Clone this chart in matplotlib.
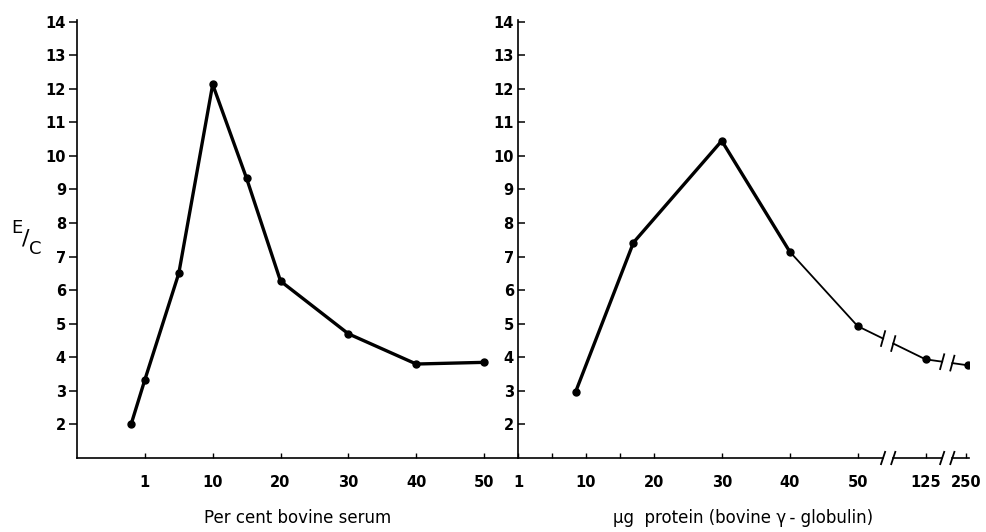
import matplotlib
matplotlib.use("Agg")
import matplotlib.pyplot as plt

# ---- data ----
left_tick_pos = [0, 10, 20, 30, 40, 50]
left_tick_labels = ['1', '10', '20', '30', '40', '50']
left_x = [-2, 0, 5, 10, 15, 20, 30, 40, 50]
left_y = [2.02, 3.33, 6.5, 12.13, 9.33, 6.27, 4.7, 3.8, 3.85]

right_tick_pos = [0, 10, 20, 30, 40, 50, 60, 66]
right_tick_labels = ['1', '10', '20', '30', '40', '50', '125', '250']
right_minor = [5, 15]
right_x = [8.5, 17, 30, 40, 50, 60, 66.3]
right_y = [2.98, 7.42, 10.45, 7.15, 4.93, 3.94, 3.76]
breaks = [54.5, 63.2]

y_ticks = list(range(2, 15))

W, H = 987, 532
fig = plt.figure(figsize=(W / 100, H / 100), dpi=100)
plt.rcParams['font.family'] = ['DejaVu Sans']

bottom = 1 - 458 / H
height = (458 - 20) / H
axL = fig.add_axes([77 / W, bottom, (518 - 77) / W, height])
axR = fig.add_axes([518 / W, bottom, (969 - 518) / W, height])

tick_font = dict(fontsize=10.5, fontweight='bold')
for ax in (axL, axR):
    ax.set_ylim(1, 14.05)
    ax.spines['top'].set_visible(False)
    ax.spines['right'].set_visible(False)
    ax.spines['left'].set_linewidth(1.2)
    ax.spines['bottom'].set_linewidth(1.2)
    ax.set_yticks(y_ticks)
    ax.set_yticklabels([str(v) for v in y_ticks], **tick_font)
    ax.patch.set_visible(False)

# left panel
axL.set_xlim(-10, 55)
axL.set_xticks(left_tick_pos)
axL.set_xticklabels(left_tick_labels, **tick_font)
axL.tick_params(axis='y', direction='out', length=6, width=1.1, pad=2)
axL.tick_params(axis='x', direction='in', length=3.5, width=1.0, pad=12)
axL.plot(left_x, left_y, color='black', lw=2.4, marker='o', ms=5, solid_joinstyle='round')
axL.set_xlabel('Per cent bovine serum', fontsize=12, labelpad=14)

# right panel
axR.set_xlim(0, 66.4)
axR.set_xticks(right_tick_pos)
axR.set_xticklabels(right_tick_labels, **tick_font)
axR.set_xticks(right_minor, minor=True)
axR.tick_params(axis='y', direction='in', length=5, width=1.1, pad=3)
axR.tick_params(axis='x', which='both', direction='in', length=3.5, width=1.0, pad=12)
axR.set_xlabel('\u03bcg  protein (bovine \u03b3\u2009- globulin)', fontsize=12, labelpad=14)

# thick part of right series
axR.plot(right_x[:4], right_y[:4], color='black', lw=2.4, solid_joinstyle='round')


def interp(x0, y0, x1, y1, x):
    return y0 + (y1 - y0) * (x - x0) / (x1 - x0)


g = 0.75
sdx, sdy = 0.3, 0.22
# thin part with breaks
xs, ys = right_x[3:], right_y[3:]
pieces = []
cur_x, cur_y = [xs[0]], [ys[0]]
for i in range(1, len(xs)):
    x0, y0, x1, y1 = xs[i - 1], ys[i - 1], xs[i], ys[i]
    for b in breaks:
        if x0 < b < x1:
            ya = interp(x0, y0, x1, y1, b - g)
            yb = interp(x0, y0, x1, y1, b + g)
            cur_x.append(b - g); cur_y.append(ya)
            pieces.append((cur_x, cur_y))
            cur_x, cur_y = [b + g], [yb]
            for xx, yy in ((b - g, ya), (b + g, yb)):
                axR.plot([xx - sdx, xx + sdx], [yy - sdy, yy + sdy], color='black', lw=1.3)
    cur_x.append(x1); cur_y.append(y1)
pieces.append((cur_x, cur_y))
for px, py in pieces:
    axR.plot(px, py, color='black', lw=1.3)
axR.plot(right_x, right_y, 'o', color='black', ms=5)

# broken x axis for right panel
axR.spines['bottom'].set_visible(False)
tr = axR.get_xaxis_transform()
seg_edges = [0] + [v for b in breaks for v in (b - g, b + g)] + [66.4]
for i in range(0, len(seg_edges), 2):
    axR.plot([seg_edges[i], seg_edges[i + 1]], [0, 0], color='black', lw=1.2,
             transform=tr, clip_on=False)
for b in breaks:
    for xx in (b - g, b + g):
        axR.plot([xx - sdx, xx + sdx], [-0.014, 0.014], color='black', lw=1.3,
                 transform=tr, clip_on=False)

# y label E/C
fig.text(17 / W, 1 - 228 / H, 'E', fontsize=13, ha='center', va='center')
fig.text(26 / W, 1 - 239 / H, '/', fontsize=16, ha='center', va='center')
fig.text(35 / W, 1 - 249 / H, 'C', fontsize=13, ha='center', va='center')

fig.savefig('out.png', dpi=100)
